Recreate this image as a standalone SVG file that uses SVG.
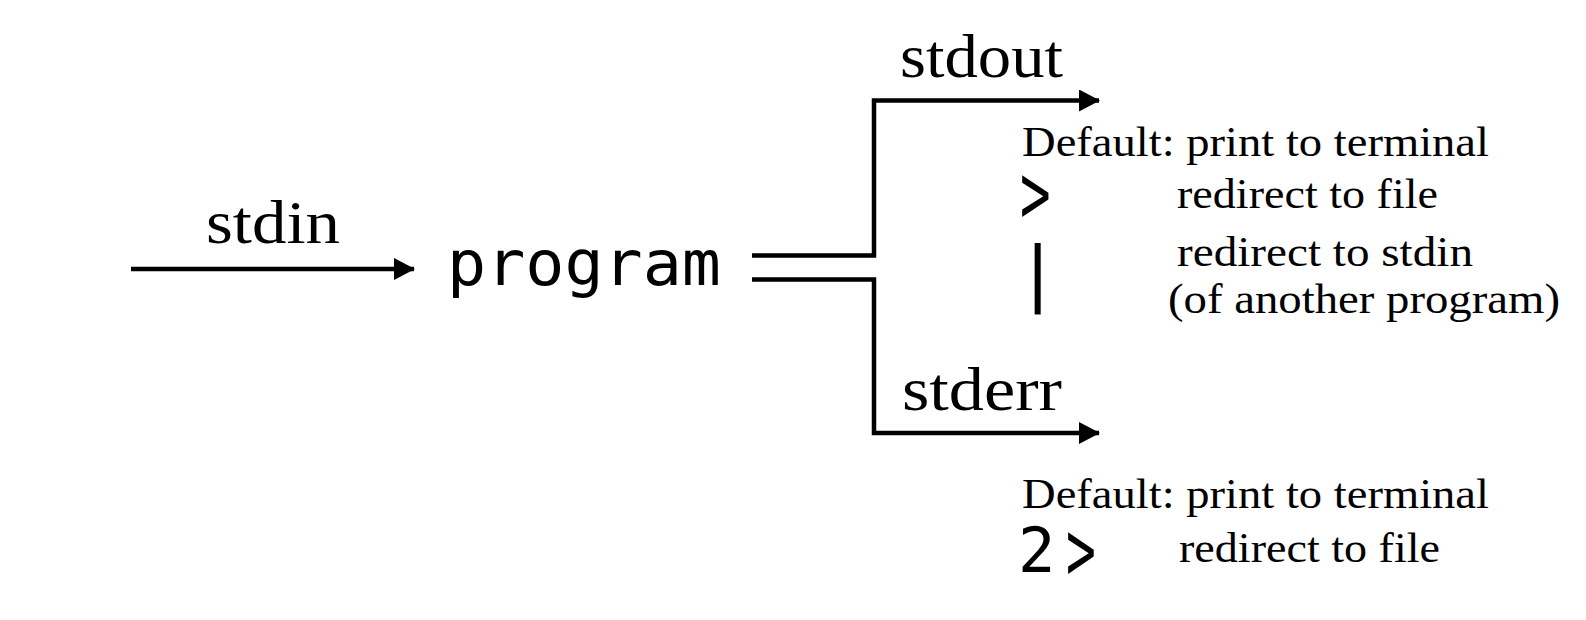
<svg xmlns="http://www.w3.org/2000/svg" width="1586" height="620" viewBox="0 0 1586 620">
<style>
.lbl{font-family:"Liberation Serif","DejaVu Serif",serif;fill:#000}
.big{font-size:61px}
.sm{font-size:43px}
.mono{font-family:"DejaVu Sans Mono","Liberation Mono",monospace;fill:#000}
.wire{fill:none;stroke:#000;stroke-width:4.5}
</style>
<defs>
<marker id="ah" markerWidth="22" markerHeight="22" refX="20" refY="11" orient="auto" markerUnits="userSpaceOnUse">
<path d="M0,0 L21,11 L0,22 Z" fill="#000"/>
</marker>
</defs>
<rect width="1586" height="620" fill="#fff"/>
<g id="connectors">
<path class="wire" d="M131,269 H414" marker-end="url(#ah)"/>
<path class="wire" d="M752,255.5 H874 V100.5 H1099" marker-end="url(#ah)"/>
<path class="wire" d="M752,279.5 H874 V433 H1099" marker-end="url(#ah)"/>
</g>
<g id="stdin"><text class="lbl big" x="206" y="243" textLength="134" lengthAdjust="spacingAndGlyphs">stdin</text></g>
<g id="program"><text class="mono" x="447" y="285" font-size="62" textLength="274" lengthAdjust="spacingAndGlyphs">program</text></g>
<g id="stdout">
<text class="lbl big" x="900" y="77" textLength="163" lengthAdjust="spacingAndGlyphs">stdout</text>
<text class="lbl sm" x="1022" y="156" textLength="467" lengthAdjust="spacingAndGlyphs">Default: print to terminal</text>
<text class="mono" x="1020" y="223" font-size="62" transform="translate(1020,223) scale(0.82,1.38) translate(-1020,-223)">&gt;</text>
<text class="lbl sm" x="1177" y="208" textLength="261" lengthAdjust="spacingAndGlyphs">redirect to file</text>
<text class="mono" x="1016" y="297" font-size="72">|</text>
<text class="lbl sm" x="1177" y="266" textLength="296" lengthAdjust="spacingAndGlyphs">redirect to stdin</text>
<text class="lbl sm" x="1168" y="313" textLength="392" lengthAdjust="spacingAndGlyphs">(of another program)</text>
</g>
<g id="stderr">
<text class="lbl big" x="902" y="410" textLength="160" lengthAdjust="spacingAndGlyphs">stderr</text>
<text class="lbl sm" x="1022" y="508" textLength="467" lengthAdjust="spacingAndGlyphs">Default: print to terminal</text>
<text class="mono" x="1018" y="572" font-size="62">2</text>
<text class="mono" x="1066" y="580" font-size="62" transform="translate(1066,580) scale(0.8,1.38) translate(-1066,-580)">&gt;</text>
<text class="lbl sm" x="1179" y="562" textLength="261" lengthAdjust="spacingAndGlyphs">redirect to file</text>
</g>
</svg>
